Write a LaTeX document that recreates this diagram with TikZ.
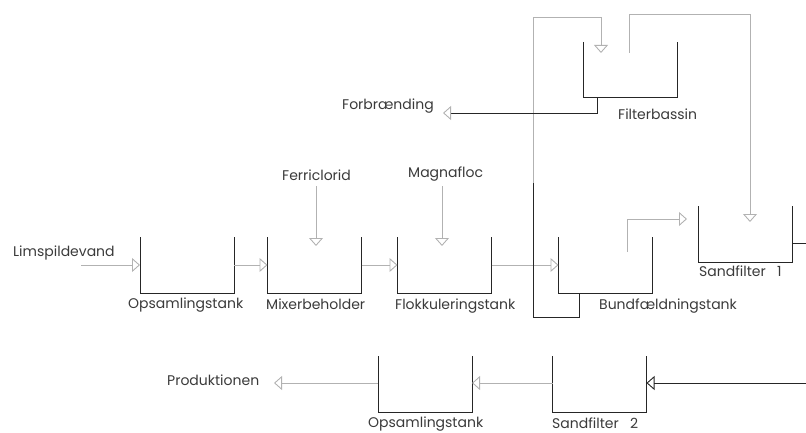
\documentclass[tikz,border=0pt]{standalone}
\usepackage{fontspec}
\setmainfont{Poppins}
\usetikzlibrary{arrows.meta,calc}
\definecolor{flow}{HTML}{B2B2B2}
\definecolor{wallc}{HTML}{262626}
\definecolor{txt}{HTML}{3A3A3A}
\tikzset{
  tank/.style={minimum width=94pt, minimum height=56pt, inner sep=0pt, outer sep=0pt},
  wall/.style={draw=wallc, line width=1pt},
  feed/.style={draw=flow, line width=0.9pt, -{Triangle[open, length=8pt, width=14pt, color=flow]}},
  dark/.style={draw=wallc, line width=0.9pt},
  darkfeed/.style={dark, -{Triangle[open, length=8pt, width=14pt, color=flow]}},
  darkin/.style={dark, -{Triangle[open, length=8pt, width=14pt, color=wallc]}},
  lbl/.style={font=\fontsize{14}{16}\selectfont, text=txt, inner sep=0pt, anchor=base west},
}
\begin{document}
\begin{tikzpicture}[x=1pt, y=-1pt]
\useasboundingbox (0,0) rectangle (806,433);

% process vessels (open-top tanks)
\node[tank] (opA)  at (187,265)   {};
\node[tank] (mix)  at (314.5,265) {};
\node[tank] (flok) at (444.5,265) {};
\node[tank] (bund) at (605.5,265) {};
\node[tank] (sfA)  at (745.5,234) {};
\node[tank] (fb)   at (630.5,70)  {};
\node[tank] (sfB)  at (599.5,384) {};
\node[tank] (opB)  at (425,384)   {};
\foreach \t in {opA,mix,flok,bund,sfA,fb,sfB,opB}
  \draw[wall] (\t.north west) |- (\t.south east) -- (\t.north east);

% labels
\node[lbl] (limsp) at (13,256)  {Limspildevand};
\node[lbl] (lopA)  at (128,308) {Opsamlingstank};
\node[lbl] (lmix)  at (266,309) {Mixerbeholder};
\node[lbl] (lflok) at (395,309) {Flokkuleringstank};
\node[lbl] (lbund) at (599,309) {Bundfældningstank};
\node[lbl] (lsfA)  at (699,276) {Sandfilter\ \ \ 1};
\node[lbl] (lfb)   at (618,120) {Filterbassin};
\node[lbl] (forbr) at (342,110) {Forbrænding};
\node[lbl] (ferri) at (282,181) {Ferriclorid};
\node[lbl] (magna) at (408,177) {Magnafloc};
\node[lbl] (prod)  at (167,385) {Produktionen};
\node[lbl] (lopB)  at (368,427) {Opsamlingstank};
\node[lbl] (lsfB)  at (552,428) {Sandfilter\ \ \ 2};

% connection points
\coordinate (inA)   at (81,265);
\coordinate (ferT)  at (316,186);
\coordinate (ferB)  at (316,246);
\coordinate (magT)  at (442,186);
\coordinate (magB)  at (442,246);
\coordinate (bundO) at (627,252);
\coordinate (sfAin) at (687,219);
\coordinate (sl1)   at (579,293);
\coordinate (sl2)   at (533,183);
\coordinate (slT)   at (601,53);
\coordinate (fbO)   at (629,53);
\coordinate (sfAT)  at (750,222);
\coordinate (fbB)   at (597,98);
\coordinate (forT)  at (443,113);
\coordinate (sfAo)  at (793,243);
\coordinate (edgeA) at (806,243);
\coordinate (edgeB) at (806,383);
\coordinate (prodT) at (274,383);

% main flow line
\draw[feed] (inA) -- (opA.west);
\draw[feed] (opA.east) -- (mix.west);
\draw[feed] (mix.east) -- (flok.west);
\draw[feed] (flok.east) -- (bund.west);
\draw[feed] (ferT) -- (ferB);
\draw[feed] (magT) -- (magB);
\draw[feed] (bundO) |- (sfAin);

% sludge to filter basin
\draw[dark] (sl1) |- (533,317) -- (sl2);
\draw[feed] (sl2) |- (601,17) -- (slT);

% filter basin overflow and sludge out
\draw[feed] (fbO) |- (750,14) -- (sfAT);
\draw[darkfeed] (fbB) |- (forT);

% sand filters and product
\draw[dark] (sfAo) -- (edgeA);
\draw[darkin] (edgeB) -- (sfB.east |- edgeB);
\draw[feed] (sfB.west |- edgeB) -- (opB.east |- edgeB);
\draw[feed] (opB.west |- edgeB) -- (prodT);
\end{tikzpicture}
\end{document}
